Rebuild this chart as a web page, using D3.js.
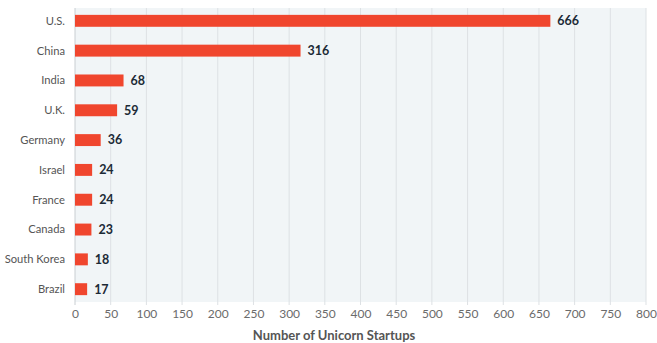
<!DOCTYPE html>
<html lang="en">
<head>
<meta charset="UTF-8">
<title>Unicorn startups by country</title>
<script src="https://d3js.org/d3.v7.min.js"></script>
<style>
  body { margin: 0; background: #fff; }
  text { font-family: Lato, "Open Sans", sans-serif; }
</style>
</head>
<body>
<script>
const countries = ["U.S.", "China", "India", "U.K.", "Germany", "Israel", "France", "Canada", "South Korea", "Brazil"]
const startups = [666, 316, 68, 59, 36, 24, 24, 23, 18, 17]
const xTicks = d3.range(0, 801, 50)

const width = 657
const height = 343
const margin = { top: 8, right: 11, bottom: 41, left: 75 }
const plotBottom = height - margin.bottom

const svg = d3.select("body").append("svg")
  .attr("width", width)
  .attr("height", height)

const x = d3.scaleLinear().domain([0, 800]).range([margin.left, width - margin.right])
const y = d3.scaleBand().domain(countries)
  .range([margin.top, plotBottom])
  .paddingInner(0.6).paddingOuter(0.23)

// plot background
svg.append("rect")
  .attr("x", margin.left).attr("y", margin.top)
  .attr("width", x(800) - margin.left)
  .attr("height", plotBottom - margin.top)
  .attr("fill", "#f1f5f7")

// grid lines
svg.append("g").selectAll("line")
  .data(xTicks)
  .join("line")
  .attr("x1", d => x(d)).attr("x2", d => x(d))
  .attr("y1", margin.top).attr("y2", plotBottom + 3)
  .attr("stroke", d => d === 0 ? "#c9ced2" : "#dde1e4")
  .attr("stroke-width", 1)

// x axis
const xAxis = svg.append("g")
  .attr("transform", `translate(0, ${plotBottom})`)
  .call(d3.axisBottom(x).tickValues(xTicks).tickSize(0).tickPadding(7))
xAxis.select(".domain").remove()
xAxis.selectAll("text").attr("fill", "#6b6b6b").style("font-size", "12px")

// y labels
svg.append("g").selectAll("text")
  .data(countries)
  .join("text")
  .attr("x", margin.left - 10)
  .attr("y", d => y(d) + y.bandwidth() / 2)
  .attr("dy", "0.35em")
  .attr("text-anchor", "end")
  .attr("fill", "#555")
  .style("font-size", "11.2px")
  .text(d => d)

// bars
svg.append("g").selectAll("rect")
  .data(countries)
  .join("rect")
  .attr("x", x(0))
  .attr("y", d => y(d))
  .attr("width", (d, i) => x(startups[i]) - x(0))
  .attr("height", y.bandwidth())
  .attr("fill", "#f0462e")

// value labels
svg.append("g").selectAll("text")
  .data(countries)
  .join("text")
  .attr("x", (d, i) => x(startups[i]) + 7)
  .attr("y", d => y(d) + y.bandwidth() / 2)
  .attr("dy", "0.35em")
  .attr("fill", "#1c2a36")
  .style("font-size", "12.5px")
  .style("font-weight", "bold")
  .text((d, i) => startups[i])

// axis title
svg.append("text")
  .attr("x", 334)
  .attr("y", 340)
  .attr("text-anchor", "middle")
  .attr("fill", "#555")
  .style("font-size", "13px")
  .style("font-weight", "bold")
  .text("Number of Unicorn Startups")
</script>
</body>
</html>
